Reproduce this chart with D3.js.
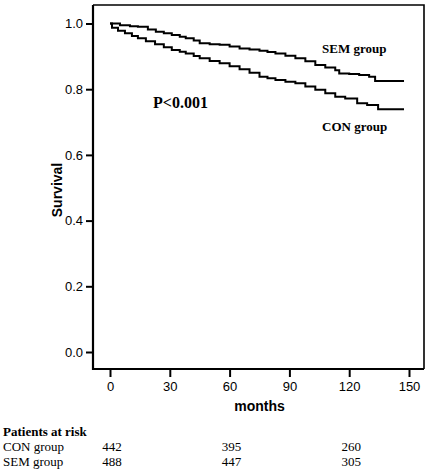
<!DOCTYPE html>
<html><head><meta charset="utf-8">
<script src="https://cdn.jsdelivr.net/npm/d3@7"></script>
<style>body{margin:0;background:#fff}svg{display:block}</style>
</head><body>
<script>
const semMonths = [0, 5, 10, 14, 19, 23, 27, 31, 35, 38, 42, 45, 50, 55, 60, 65, 70, 75, 79, 83, 88, 93, 98, 103, 108, 113, 115, 120, 125, 130, 133, 147.5];
const semSurv   = [1.0, 0.995, 0.992, 0.99, 0.982, 0.975, 0.97, 0.965, 0.96, 0.955, 0.948, 0.94, 0.937, 0.935, 0.93, 0.924, 0.921, 0.917, 0.913, 0.909, 0.902, 0.894, 0.885, 0.874, 0.866, 0.858, 0.848, 0.846, 0.843, 0.838, 0.825, 0.825];
const conMonths = [0, 1, 4, 7.5, 11, 14, 18, 22.6, 27, 31, 35, 38, 42, 45, 50, 55, 60, 65, 70, 75, 79, 83, 88, 93, 98, 103, 108, 113, 118, 124, 129, 134.5, 147.5];
const conSurv   = [1.0, 0.987, 0.978, 0.97, 0.962, 0.955, 0.946, 0.937, 0.928, 0.919, 0.914, 0.909, 0.901, 0.894, 0.886, 0.879, 0.87, 0.861, 0.85, 0.838, 0.833, 0.828, 0.823, 0.818, 0.808, 0.798, 0.788, 0.777, 0.772, 0.757, 0.752, 0.739, 0.739];
const xTicks = [0, 30, 60, 90, 120, 150];
const yTicks = [0.0, 0.2, 0.4, 0.6, 0.8, 1.0];
const riskMonths = [0, 60, 120];
const riskCON = [442, 395, 260];
const riskSEM = [488, 447, 305];

const W = 429, H = 472;
const svg = d3.select("body").append("svg").attr("width", W).attr("height", H);
const x = d3.scaleLinear().domain([0, 150]).range([110, 409]);
const y = d3.scaleLinear().domain([0, 1]).range([352, 23.5]);
const L = 93, T = 5, R = 424, B = 369;

// frame
svg.append("path").attr("d", `M${L},${T}H${R}V${B}`).attr("fill", "none").attr("stroke", "#000").attr("stroke-width", 1.6);
svg.append("path").attr("d", `M${L},${T}V${B}H${R}`).attr("fill", "none").attr("stroke", "#000").attr("stroke-width", 2.2);

// y axis
const yAx = svg.append("g").attr("transform", `translate(${L},0)`)
  .call(d3.axisLeft(y).tickValues(yTicks).tickFormat(d3.format(".1f")).tickSize(7).tickPadding(3));
yAx.select(".domain").remove();
yAx.selectAll("line").attr("stroke-width", 2);
yAx.selectAll("text").attr("font-family", "Liberation Sans, Arial, sans-serif").attr("font-size", 13).attr("fill", "#000");

// x axis
const xAx = svg.append("g").attr("transform", `translate(0,${B})`)
  .call(d3.axisBottom(x).tickValues(xTicks).tickSize(8).tickPadding(5));
xAx.select(".domain").remove();
xAx.selectAll("line").attr("stroke-width", 2);
xAx.selectAll("text").attr("font-family", "Liberation Sans, Arial, sans-serif").attr("font-size", 13).attr("fill", "#000");

// axis titles
svg.append("text").attr("x", (x(0) + x(150)) / 2).attr("y", 411).attr("text-anchor", "middle")
  .attr("font-family", "Liberation Sans, Arial, sans-serif").attr("font-weight", "bold").attr("font-size", 14).text("months");
svg.append("text").attr("transform", "translate(62,190) rotate(-90)").attr("text-anchor", "middle")
  .attr("font-family", "Liberation Sans, Arial, sans-serif").attr("font-weight", "bold").attr("font-size", 14).text("Survival");

// curves
const line = d3.line().x(d => x(d[0])).y(d => y(d[1])).curve(d3.curveStepAfter);
svg.append("path").datum(semMonths.map((m, i) => [m, semSurv[i]]))
  .attr("d", line).attr("fill", "none").attr("stroke", "#000").attr("stroke-width", 2);
svg.append("path").datum(conMonths.map((m, i) => [m, conSurv[i]]))
  .attr("d", line).attr("fill", "none").attr("stroke", "#000").attr("stroke-width", 2);

// annotations
const serif = "Liberation Serif, Times New Roman, serif";
svg.append("text").attr("x", 322).attr("y", 53).attr("font-family", serif).attr("font-weight", "bold").attr("font-size", 13).text("SEM group");
svg.append("text").attr("x", 322).attr("y", 131).attr("font-family", serif).attr("font-weight", "bold").attr("font-size", 13).text("CON group");
svg.append("text").attr("x", 153).attr("y", 108).attr("font-family", serif).attr("font-weight", "bold").attr("font-size", 16).text("P<0.001");

// risk table
svg.append("text").attr("x", 3).attr("y", 436).attr("font-family", serif).attr("font-weight", "bold").attr("font-size", 13).text("Patients at risk");
svg.append("text").attr("x", 3).attr("y", 451).attr("font-family", serif).attr("font-size", 13).text("CON group");
svg.append("text").attr("x", 3).attr("y", 466).attr("font-family", serif).attr("font-size", 13).text("SEM group");
riskMonths.forEach((m, i) => {
  svg.append("text").attr("x", x(m) + 2).attr("y", 451).attr("text-anchor", "middle").attr("font-family", serif).attr("font-size", 13).text(riskCON[i]);
  svg.append("text").attr("x", x(m) + 2).attr("y", 466).attr("text-anchor", "middle").attr("font-family", serif).attr("font-size", 13).text(riskSEM[i]);
});
</script>
</body></html>
